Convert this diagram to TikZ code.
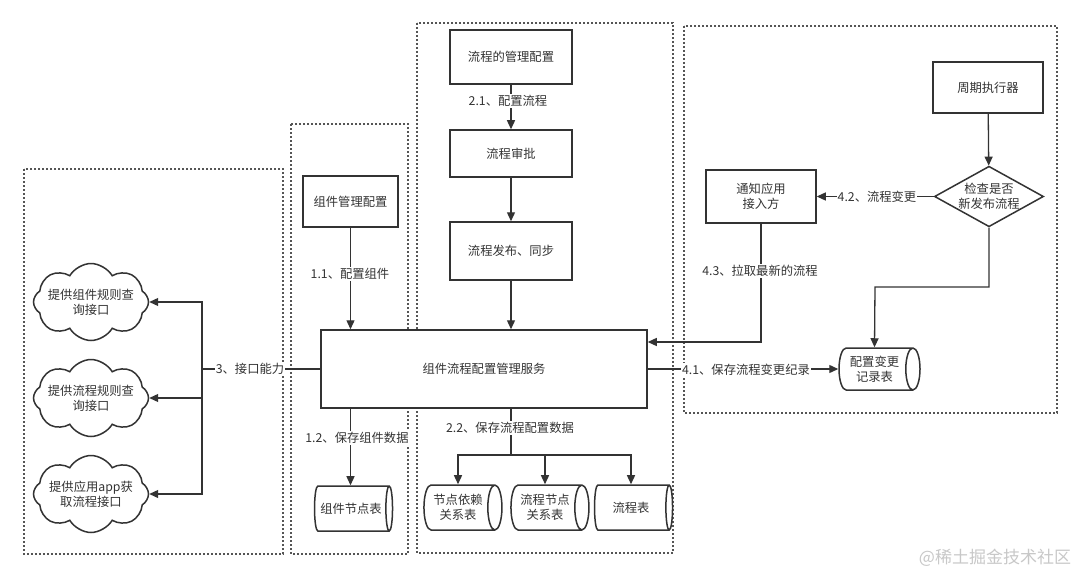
\documentclass[tikz,border=0pt]{standalone}
\usepackage{fontspec}
\setmainfont{Noto Sans CJK SC}
\usetikzlibrary{shapes.geometric,shapes.symbols,arrows.meta}
\definecolor{ink}{HTML}{333333}
\definecolor{frm}{HTML}{555555}
\definecolor{wm}{HTML}{C8C8C8}
\begin{document}
\begin{tikzpicture}[x=1pt,y=-1pt,
  every node/.style={font=\fontsize{12.3}{15}\selectfont, text=ink},
  box/.style={draw=ink, fill=white, line width=1.5pt, align=center, inner sep=0pt},
  lbl/.style={fill=white, inner sep=1pt},
  arr/.style={draw=ink, line width=1.3pt, -{Triangle[length=9pt,width=8pt]}},
  ln/.style={draw=ink, line width=1.3pt},
  frame/.style={draw=frm, line width=1.2pt, dash pattern=on 2pt off 2pt},
  db/.style={cylinder, draw=ink, fill=white, line width=1.5pt, aspect=0.5, minimum width=45pt, minimum height=78pt, inner sep=1pt, align=center},
  cl/.style={cloud, draw=ink, fill=white, line width=1.5pt, cloud puffs=8, cloud puff arc=120, minimum width=115pt, minimum height=77pt, inner sep=0pt},
  cltext/.style={align=center}
]
\fill[white] (0,0) rectangle (1080,578);
\useasboundingbox (0,0) rectangle (1080,578);

% frames
\draw[frame] (24,169) rectangle (283,554);
\draw[frame] (291,124) rectangle (408,554);
\draw[frame] (417,23) rectangle (673,553);
\draw[frame] (684,26) rectangle (1057,413);

% nodes
\node[box, minimum width=95pt, minimum height=51pt] (cm) at (350.5,201.5) {组件管理配置};
\node[box, minimum width=326pt, minimum height=78pt] (main) at (484,369) {组件流程配置管理服务};
\node[box, minimum width=122pt, minimum height=54pt] (fm) at (511,57) {流程的管理配置};
\node[box, minimum width=122pt, minimum height=47pt] (fa) at (511,153.5) {流程审批};
\node[box, minimum width=122pt, minimum height=58pt] (fp) at (511,251) {流程发布、同步};
\node[box, minimum width=110pt, minimum height=51pt] (timer) at (988,87.5) {周期执行器};
\node[diamond, draw=ink, fill=white, line width=1.5pt, aspect=1.8, inner sep=0pt, align=center] (dia) at (989,196.5) {检查是否\\新发布流程};
\node[box, minimum width=110pt, minimum height=53pt] (notify) at (761,196.5) {通知应用\\接入方};

\node[db] (t0) at (351,508.5) {组件节点表};
\node[db] (t1) at (458,507.5) {节点依赖\\关系表};
\node[db] (t2) at (545,507.5) {流程节点\\关系表};
\node[db] (t3) at (631,507.5) {流程表};
\node[db, minimum width=42pt, minimum height=81pt] (rec) at (874.5,369) {配置变更\\记录表};

\node[cl] (c1) at (91,302) {};
\node[cltext] (c1t) at (91,302) {提供组件规则查\\询接口};
\node[cl] (c2) at (91,398) {};
\node[cltext] (c2t) at (91,398) {提供流程规则查\\询接口};
\node[cl] (c3) at (91,494) {};
\node[cltext] (c3t) at (91,494) {提供应用app获\\取流程接口};

% component flow
\draw[arr] (cm.south) -- (cm.south |- main.north);
\node[lbl] (l11) at (350,274) {1.1、配置组件};
\draw[arr] (cm.south |- main.south) -- (cm.south |- t0.north);
\node[lbl] (l12) at (357,438) {1.2、保存组件数据};

% process flow
\draw[arr] (fm) -- (fa);
\node[lbl] (l21) at (508,101) {2.1、配置流程};
\draw[arr] (fa) -- (fp);
\draw[arr] (fp.south) -- (fp.south |- main.north);
\coordinate (j2) at (511,455);
\draw[ln] (j2 |- main.south) -- (j2);
\draw[arr] (j2) -| (t1.north);
\draw[arr] (j2) -| (t2.north);
\draw[arr] (j2) -| (t3.north);
\node[lbl] (l22) at (510,428) {2.2、保存流程配置数据};

% interfaces
\coordinate (j3) at (202,369);
\draw[ln] (main.west) -- (j3);
\draw[arr] (j3) |- (c1.east);
\draw[arr] (j3) |- (c2.east);
\draw[arr] (j3) |- (c3.east);
\node[lbl] (l3) at (250,369) {3、接口能力};

% right part
\draw[arr] (timer) -- (dia);
\draw[arr] (dia) -- (notify);
\node[lbl] (l42) at (877,197) {4.2、流程变更};
\coordinate (j43) at (760,342);
\draw[arr] (notify.south) |- (main.east |- j43);
\node[lbl] (l43) at (760,271) {4.3、拉取最新的流程};
\draw[arr] (main.east |- rec.west) -- (rec.west);
\node[lbl] (l41) at (746,370) {4.1、保存流程变更纪录};
\coordinate (bend) at (875,287);
\draw[arr] (dia.south) |- (bend) -- (rec.north);

\node[text=wm, font=\fontsize{17}{20}\selectfont] (wmk) at (995,558) {@稀土掘金技术社区};
\end{tikzpicture}
\end{document}
